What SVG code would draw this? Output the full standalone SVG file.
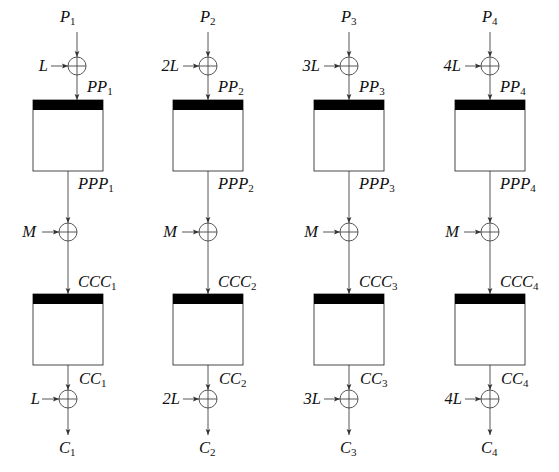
<svg xmlns="http://www.w3.org/2000/svg" width="559" height="472" viewBox="0 0 559 472">
<style>
.t{font-family:"Liberation Serif","DejaVu Serif",serif;font-style:italic;font-size:16.5px;fill:#111}
.s{font-size:11px;font-style:normal}
.ln{stroke:#444;stroke-width:0.9;fill:none}
.box{fill:#fff;stroke:#333;stroke-width:0.9}
.bar{fill:#000}
.x{fill:#fff;stroke:#444;stroke-width:0.9}
</style>
<defs>
<marker id="ah" markerUnits="userSpaceOnUse" markerWidth="7" markerHeight="6" refX="6" refY="3" orient="auto">
<path d="M0,0.6 L6,3 L0,5.4 L1.2,3 Z" fill="#333"/>
</marker>
<g id="xor"><circle r="9" class="x"/><path d="M-9,0H9M0,-9V9" class="ln"/></g>
<g id="blk"><rect x="-35" y="0" width="70" height="71" class="box"/><rect x="-35" y="0" width="70" height="10" class="bar"/></g>
</defs>

<g id="connectors">
<!-- column 1 -->
<path class="ln" marker-end="url(#ah)" d="M77,32V57"/>
<path class="ln" marker-end="url(#ah)" d="M51,66H68"/>
<path class="ln" marker-end="url(#ah)" d="M77,75V100"/>
<path class="ln" marker-end="url(#ah)" d="M68,171V223"/>
<path class="ln" marker-end="url(#ah)" d="M42,232H59"/>
<path class="ln" marker-end="url(#ah)" d="M68,241V294"/>
<path class="ln" marker-end="url(#ah)" d="M68,365V390"/>
<path class="ln" marker-end="url(#ah)" d="M42,399H59"/>
<path class="ln" marker-end="url(#ah)" d="M68,408V435"/>
<!-- column 2 -->
<path class="ln" marker-end="url(#ah)" d="M208,32V57"/>
<path class="ln" marker-end="url(#ah)" d="M183,66H199"/>
<path class="ln" marker-end="url(#ah)" d="M208,75V100"/>
<path class="ln" marker-end="url(#ah)" d="M208,171V223"/>
<path class="ln" marker-end="url(#ah)" d="M182,232H199"/>
<path class="ln" marker-end="url(#ah)" d="M208,241V294"/>
<path class="ln" marker-end="url(#ah)" d="M208,365V390"/>
<path class="ln" marker-end="url(#ah)" d="M183,399H199"/>
<path class="ln" marker-end="url(#ah)" d="M208,408V435"/>
<!-- column 3 -->
<path class="ln" marker-end="url(#ah)" d="M349,32V57"/>
<path class="ln" marker-end="url(#ah)" d="M324,66H340"/>
<path class="ln" marker-end="url(#ah)" d="M349,75V100"/>
<path class="ln" marker-end="url(#ah)" d="M349,171V223"/>
<path class="ln" marker-end="url(#ah)" d="M323,232H340"/>
<path class="ln" marker-end="url(#ah)" d="M349,241V294"/>
<path class="ln" marker-end="url(#ah)" d="M349,365V390"/>
<path class="ln" marker-end="url(#ah)" d="M324,399H340"/>
<path class="ln" marker-end="url(#ah)" d="M349,408V435"/>
<!-- column 4 -->
<path class="ln" marker-end="url(#ah)" d="M490,32V57"/>
<path class="ln" marker-end="url(#ah)" d="M465,66H481"/>
<path class="ln" marker-end="url(#ah)" d="M490,75V100"/>
<path class="ln" marker-end="url(#ah)" d="M490,171V223"/>
<path class="ln" marker-end="url(#ah)" d="M464,232H481"/>
<path class="ln" marker-end="url(#ah)" d="M490,241V294"/>
<path class="ln" marker-end="url(#ah)" d="M490,365V390"/>
<path class="ln" marker-end="url(#ah)" d="M465,399H481"/>
<path class="ln" marker-end="url(#ah)" d="M490,408V435"/>
</g>

<!-- column 1 nodes -->
<g id="xorL1"><use href="#xor" x="77" y="66"/></g>
<g id="enc1a"><use href="#blk" x="68" y="100"/></g>
<g id="xorM1"><use href="#xor" x="68" y="232"/></g>
<g id="enc1b"><use href="#blk" x="68" y="294"/></g>
<g id="xorL1b"><use href="#xor" x="68" y="399"/></g>
<!-- column 2 nodes -->
<g id="xorL2"><use href="#xor" x="208" y="66"/></g>
<g id="enc2a"><use href="#blk" x="208" y="100"/></g>
<g id="xorM2"><use href="#xor" x="208" y="232"/></g>
<g id="enc2b"><use href="#blk" x="208" y="294"/></g>
<g id="xorL2b"><use href="#xor" x="208" y="399"/></g>
<!-- column 3 nodes -->
<g id="xorL3"><use href="#xor" x="349" y="66"/></g>
<g id="enc3a"><use href="#blk" x="349" y="100"/></g>
<g id="xorM3"><use href="#xor" x="349" y="232"/></g>
<g id="enc3b"><use href="#blk" x="349" y="294"/></g>
<g id="xorL3b"><use href="#xor" x="349" y="399"/></g>
<!-- column 4 nodes -->
<g id="xorL4"><use href="#xor" x="490" y="66"/></g>
<g id="enc4a"><use href="#blk" x="490" y="100"/></g>
<g id="xorM4"><use href="#xor" x="490" y="232"/></g>
<g id="enc4b"><use href="#blk" x="490" y="294"/></g>
<g id="xorL4b"><use href="#xor" x="490" y="399"/></g>

<g id="labels" class="t">
<!-- col 1 -->
<text x="60" y="22">P<tspan class="s" dy="3">1</tspan></text>
<text x="48" y="71" text-anchor="end">L</text>
<text x="87" y="92">PP<tspan class="s" dy="3">1</tspan></text>
<text x="78" y="189">PPP<tspan class="s" dy="3">1</tspan></text>
<text x="36" y="237" text-anchor="end">M</text>
<text x="78" y="287">CCC<tspan class="s" dy="3">1</tspan></text>
<text x="79" y="384">CC<tspan class="s" dy="3">1</tspan></text>
<text x="40" y="404" text-anchor="end">L</text>
<text x="59" y="453">C<tspan class="s" dy="3">1</tspan></text>
<!-- col 2 -->
<text x="200" y="22">P<tspan class="s" dy="3">2</tspan></text>
<text x="179" y="71" text-anchor="end">2L</text>
<text x="218" y="92">PP<tspan class="s" dy="3">2</tspan></text>
<text x="218" y="189">PPP<tspan class="s" dy="3">2</tspan></text>
<text x="177" y="237" text-anchor="end">M</text>
<text x="218" y="287">CCC<tspan class="s" dy="3">2</tspan></text>
<text x="219" y="384">CC<tspan class="s" dy="3">2</tspan></text>
<text x="180" y="404" text-anchor="end">2L</text>
<text x="199" y="453">C<tspan class="s" dy="3">2</tspan></text>
<!-- col 3 -->
<text x="341" y="22">P<tspan class="s" dy="3">3</tspan></text>
<text x="320" y="71" text-anchor="end">3L</text>
<text x="359" y="92">PP<tspan class="s" dy="3">3</tspan></text>
<text x="359" y="189">PPP<tspan class="s" dy="3">3</tspan></text>
<text x="318" y="237" text-anchor="end">M</text>
<text x="359" y="287">CCC<tspan class="s" dy="3">3</tspan></text>
<text x="360" y="384">CC<tspan class="s" dy="3">3</tspan></text>
<text x="321" y="404" text-anchor="end">3L</text>
<text x="340" y="453">C<tspan class="s" dy="3">3</tspan></text>
<!-- col 4 -->
<text x="482" y="22">P<tspan class="s" dy="3">4</tspan></text>
<text x="461" y="71" text-anchor="end">4L</text>
<text x="500" y="92">PP<tspan class="s" dy="3">4</tspan></text>
<text x="500" y="189">PPP<tspan class="s" dy="3">4</tspan></text>
<text x="459" y="237" text-anchor="end">M</text>
<text x="500" y="287">CCC<tspan class="s" dy="3">4</tspan></text>
<text x="501" y="384">CC<tspan class="s" dy="3">4</tspan></text>
<text x="462" y="404" text-anchor="end">4L</text>
<text x="481" y="453">C<tspan class="s" dy="3">4</tspan></text>
</g>
</svg>
